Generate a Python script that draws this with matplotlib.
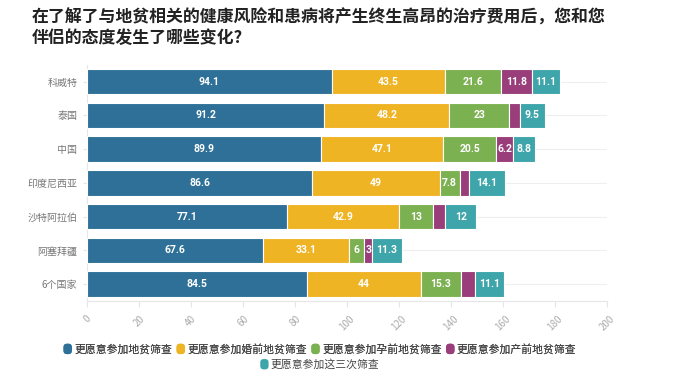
import matplotlib
matplotlib.use("Agg")
import matplotlib.pyplot as plt
from matplotlib.patches import FancyBboxPatch
from matplotlib.legend_handler import HandlerPatch
import matplotlib.patches as mpatches

plt.rcParams["font.family"] = ["Noto Sans CJK SC", "DejaVu Sans"]

# 数据
countries = ["科威特", "泰国", "中国", "印度尼西亚", "沙特阿拉伯", "阿塞拜疆", "6个国家"]
series_names = ["更愿意参加地贫筛查", "更愿意参加婚前地贫筛查", "更愿意参加孕前地贫筛查",
                "更愿意参加产前地贫筛查", "更愿意参加这三次筛查"]
s1 = [94.1, 91.2, 89.9, 86.6, 77.1, 67.6, 84.5]
s2 = [43.5, 48.2, 47.1, 49, 42.9, 33.1, 44]
s3 = [21.6, 23, 20.5, 7.8, 13, 6, 15.3]
s4 = [11.8, 4.1, 6.2, 3.4, 4.7, 3, 5.4]
s5 = [11.1, 9.5, 8.8, 14.1, 12, 11.3, 11.1]
series = [s1, s2, s3, s4, s5]
colors = ["#2e7098", "#efb424", "#7cb152", "#993e7a", "#3ea5aa"]
xticks = list(range(0, 201, 20))

fig = plt.figure(figsize=(6.74, 3.83), dpi=100)
ax = fig.add_axes([0.129, 0.214, 0.7716, 0.617])

ypos = list(range(len(countries)))
left = [0] * len(countries)
bars = []
for vals, col, name in zip(series, colors, series_names):
    b = ax.barh(ypos, vals, left=left, height=0.75, color=col, edgecolor="white",
                linewidth=0.8, label=name, zorder=3)
    bars.append((b, vals))
    left = [l + v for l, v in zip(left, vals)]

ax.set_xlim(0, 200)
ax.set_ylim(len(countries) - 0.5, -0.5)
ax.set_xticks(xticks)
ax.set_xticklabels([str(t) for t in xticks], rotation=45, ha="center", va="top",
                   fontsize=7, color="#aaaaaa")
ax.set_yticks(ypos)
ax.set_yticklabels(countries, fontsize=7.2, color="#777777")
ax.tick_params(axis="x", length=4, color="#e6e6e6", pad=5)
ax.tick_params(axis="y", length=3, color="#e6e6e6", pad=4)
for t in ypos:
    ax.axhline(t, color="#eeeeee", linewidth=0.8, zorder=0)
for sp in ["top", "right"]:
    ax.spines[sp].set_visible(False)
for sp in ["left", "bottom"]:
    ax.spines[sp].set_color("#e6e6e6")

# 段内数值，放不下的不显示
fig.canvas.draw()
renderer = fig.canvas.get_renderer()
for b, vals in bars:
    for rect, v in zip(b, vals):
        cx = rect.get_x() + rect.get_width() / 2
        cy = rect.get_y() + rect.get_height() / 2
        txt = ax.text(cx, cy, f"{v:g}", ha="center", va="center", color="white",
                      fontsize=7.5, fontweight="bold", family="Roboto", zorder=4)
        tw = txt.get_window_extent(renderer).width
        x0 = ax.transData.transform((rect.get_x(), 0))[0]
        x1 = ax.transData.transform((rect.get_x() + rect.get_width(), 0))[0]
        if tw > (x1 - x0):
            txt.remove()

fig.text(0.047, 0.978, "在了解了与地贫相关的健康风险和患病将产生终生高昂的治疗费用后，您和您\n伴侣的态度发生了哪些变化?",
         ha="left", va="top", fontsize=12.2, fontweight="bold", color="#222222",
         linespacing=1.2)


class RoundHandler(HandlerPatch):
    def create_artists(self, legend, orig_handle, xdescent, ydescent, width, height,
                       fontsize, trans):
        w = 6
        p = FancyBboxPatch((xdescent + (width - w) / 2, -ydescent - 1), w, height + 2,
                           boxstyle="round,pad=0,rounding_size=2.5",
                           facecolor=orig_handle.get_facecolor(), edgecolor="none",
                           transform=trans)
        return [p]


handles = [mpatches.Patch(color=c) for c in colors]
hmap = {h: RoundHandler() for h in handles}
leg1 = fig.legend(handles[:4], series_names[:4], loc="center", bbox_to_anchor=(0.475, 0.088),
                  ncol=4, frameon=False, fontsize=7.8, handlelength=0.7, handletextpad=0.25,
                  columnspacing=0.45, handler_map=hmap, labelcolor="#444444")
fig.legend(handles[4:], series_names[4:], loc="center", bbox_to_anchor=(0.475, 0.048),
           ncol=1, frameon=False, fontsize=7.8, handlelength=0.7, handletextpad=0.25,
           handler_map=hmap, labelcolor="#444444")
fig.add_artist(leg1)

fig.savefig("out.png", dpi=100)
